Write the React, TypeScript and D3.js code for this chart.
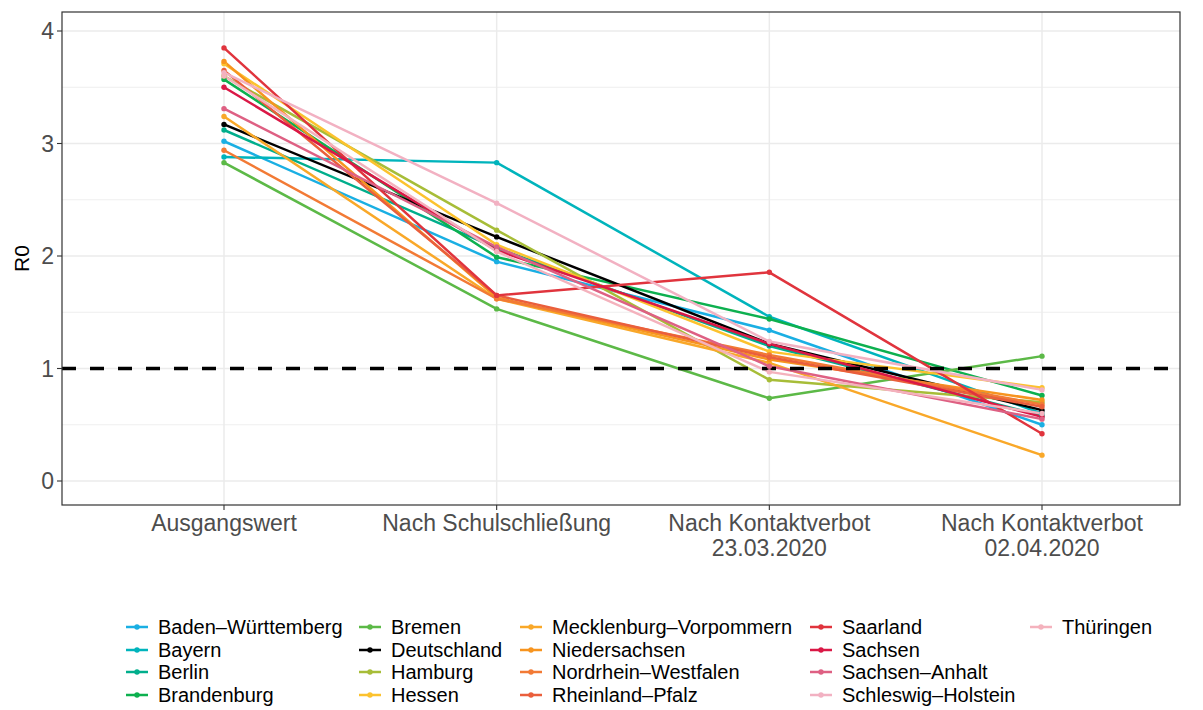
import React from "react";
import * as d3 from "d3";

const categories = [
  "Ausgangswert",
  "Nach Schulschließung",
  "Nach Kontaktverbot\n23.03.2020",
  "Nach Kontaktverbot\n02.04.2020",
];

const states = [
  "Baden–Württemberg",
  "Bayern",
  "Berlin",
  "Brandenburg",
  "Bremen",
  "Deutschland",
  "Hamburg",
  "Hessen",
  "Mecklenburg–Vorpommern",
  "Niedersachsen",
  "Nordrhein–Westfalen",
  "Rheinland–Pfalz",
  "Saarland",
  "Sachsen",
  "Sachsen–Anhalt",
  "Schleswig–Holstein",
  "Thüringen",
];

const colors = [
  "#1AAFE3",
  "#00B4BC",
  "#00AE8C",
  "#0DB04F",
  "#5CB947",
  "#000000",
  "#A7BD38",
  "#FCC22E",
  "#F9A829",
  "#F7941F",
  "#F27A35",
  "#EA5F3C",
  "#E0343D",
  "#DA1846",
  "#DE6083",
  "#F2B1C2",
  "#F4B2BD",
];

const values: number[][] = [
  [3.02, 1.95, 1.34, 0.5],
  [2.88, 2.83, 1.46, 0.6],
  [3.12, 2.07, 1.2, 0.58],
  [3.57, 1.99, 1.44, 0.76],
  [2.83, 1.53, 0.735, 1.11],
  [3.17, 2.17, 1.22, 0.63],
  [3.6, 2.23, 0.9, 0.7],
  [3.71, 2.1, 1.15, 0.83],
  [3.24, 1.62, 1.05, 0.23],
  [3.73, 1.63, 1.08, 0.72],
  [2.94, 1.62, 1.12, 0.68],
  [3.65, 1.65, 1.1, 0.66],
  [3.85, 1.65, 1.855, 0.42],
  [3.5, 2.05, 1.22, 0.57],
  [3.31, 2.08, 1.02, 0.55],
  [3.63, 2.47, 1.24, 0.81],
  [3.6, 2.04, 0.97, 0.6],
];

const yTicks = [0, 1, 2, 3, 4];
const yMinor = [0.5, 1.5, 2.5, 3.5];

const FONT = "'Liberation Sans', Arial, Helvetica, sans-serif";

export default function App() {
  const W = 1203, H = 710;
  const pL = 62, pR = 1180, pT = 12, pB = 505;
  const x = d3.scalePoint<string>().domain(categories).range([224, 1042]);
  const y = d3.scaleLinear().domain([0, 4]).range([481, 31]);
  const line = d3
    .line<number>()
    .x((_, i) => x(categories[i]) as number)
    .y((d) => y(d));

  const axFs = 23;
  const lgFs = 20;
  const legendCols = [126, 359, 520, 810, 1030];
  const rowY = [627, 650, 672, 695];

  return (
    <svg
      width={W}
      height={H}
      style={{ position: "absolute", left: 0, top: 0, background: "#fff" }}
      fontFamily={FONT}
    >
      <rect x={0} y={0} width={W} height={H} fill="#fff" />
      <g>
        {yMinor.map((v) => (
          <line key={"m" + v} x1={pL} x2={pR} y1={y(v)} y2={y(v)} stroke="#EBEBEB" strokeWidth={0.8} />
        ))}
        {yTicks.map((v) => (
          <line key={"g" + v} x1={pL} x2={pR} y1={y(v)} y2={y(v)} stroke="#EBEBEB" strokeWidth={1.5} />
        ))}
        {categories.map((c) => (
          <line key={"v" + c} x1={x(c)} x2={x(c)} y1={pT} y2={pB} stroke="#EBEBEB" strokeWidth={1.5} />
        ))}
      </g>
      <g>
        {values.map((vals, i) => (
          <path key={"l" + i} d={line(vals) || ""} fill="none" stroke={colors[i]} strokeWidth={2.5} strokeLinejoin="round" />
        ))}
      </g>
      <line x1={pL} x2={pR} y1={y(1)} y2={y(1)} stroke="#000" strokeWidth={3.4} strokeDasharray="14,14" />
      <g>
        {values.map((vals, i) =>
          vals.map((v, j) => (
            <circle key={"p" + i + "-" + j} cx={x(categories[j])} cy={y(v)} r={2.7} fill={colors[i]} />
          ))
        )}
      </g>
      <rect x={pL} y={pT} width={pR - pL} height={pB - pT} fill="none" stroke="#333" strokeWidth={1.2} />
      {yTicks.map((v) => (
        <g key={"yt" + v}>
          <line x1={pL - 5} x2={pL} y1={y(v)} y2={y(v)} stroke="#333" strokeWidth={1.1} />
          <text x={pL - 8} y={y(v)} dy="0.35em" textAnchor="end" fontSize={axFs} fill="#4D4D4D">
            {v}
          </text>
        </g>
      ))}
      {categories.map((c) => (
        <g key={"xt" + c}>
          <line x1={x(c)} x2={x(c)} y1={pB} y2={pB + 5} stroke="#333" strokeWidth={1.1} />
          {c.split("\n").map((ln, k) => (
            <text key={k} x={x(c)} y={531 + k * 25} textAnchor="middle" fontSize={axFs} fill="#4D4D4D">
              {ln}
            </text>
          ))}
        </g>
      ))}
      <text transform={`translate(29,${(pT + pB) / 2}) rotate(-90)`} textAnchor="middle" fontSize={21} fill="#000">
        R0
      </text>
      <g>
        {states.map((s, i) => {
          const col = Math.floor(i / 4);
          const row = i % 4;
          const kx = legendCols[col];
          const ky = rowY[row];
          return (
            <g key={"lg" + s}>
              <line x1={kx} x2={kx + 22} y1={ky} y2={ky} stroke={colors[i]} strokeWidth={2.5} />
              <circle cx={kx + 11} cy={ky} r={2.7} fill={colors[i]} />
              <text x={kx + 32} y={ky} dy="0.35em" fontSize={lgFs} fill="#000">
                {s}
              </text>
            </g>
          );
        })}
      </g>
    </svg>
  );
}
